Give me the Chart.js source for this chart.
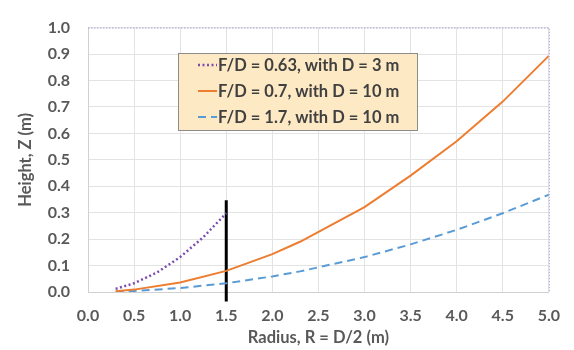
<!DOCTYPE html>
<html>
<head>
<meta charset="utf-8">
<script src="https://cdn.jsdelivr.net/npm/chart.js@4"></script>
<style>
  html, body { margin: 0; padding: 0; background: #fff; }
  #wrap { width: 574px; height: 350px; }
</style>
</head>
<body>
<div id="wrap"><canvas id="chart" width="574" height="350"></canvas></div>
<script>
// values
const rSmall = [0.3, 0.5, 0.75, 1.0, 1.25, 1.5];
const zSmall = [0.012, 0.033, 0.074, 0.132, 0.207, 0.298];

const rBig = [0.3, 0.5, 1.0, 1.5, 2.0, 2.3, 3.0, 3.5, 4.0, 4.5, 5.0];
const zMid = [0.003, 0.009, 0.036, 0.080, 0.143, 0.190, 0.321, 0.440, 0.570, 0.720, 0.893];
const zFlat = [0.001, 0.004, 0.015, 0.033, 0.059, 0.078, 0.132, 0.180, 0.235, 0.298, 0.368];

const markerX = [1.5, 1.5];
const markerY = [-0.036, 0.347];

const seriesNames = [
    'F/D = 0.63, with D = 3 m',
    'F/D = 0.7, with D = 10 m',
    'F/D = 1.7, with D = 10 m'
];

function pairUp(xs, ys) {
    let arr = [];
    for (let i = 0; i < xs.length; i++) {
        arr.push({x: xs[i], y: ys[i]});
    }
    return arr;
}

const FONT = 'Lato, "Open Sans", sans-serif';
const textColor = '#595959';

// dotted purple frame on the top and right of the plot
const framePlugin = {
    id: 'frame',
    afterDatasetsDraw(chart) {
        const a = chart.chartArea;
        const ctx = chart.ctx;
        ctx.save();
        ctx.strokeStyle = '#b39ddb';
        ctx.lineWidth = 1;
        ctx.setLineDash([1.5, 1.5]);
        ctx.beginPath();
        ctx.moveTo(a.left, a.top + 0.5);
        ctx.lineTo(a.right + 0.5, a.top + 0.5);
        ctx.lineTo(a.right + 0.5, a.bottom);
        ctx.stroke();
        ctx.restore();
    }
};

// boxed legend inside the plot, like the Excel one
const boxLegend = {
    id: 'boxLegend',
    afterDraw(chart) {
        const ctx = chart.ctx;
        const x0 = 178, y0 = 53, w = 239, h = 77;
        ctx.save();
        ctx.fillStyle = '#fde9c4';
        ctx.strokeStyle = '#8c8c8c';
        ctx.lineWidth = 1;
        ctx.fillRect(x0, y0, w, h);
        ctx.strokeRect(x0 + 0.5, y0 + 0.5, w, h);
        const rows = [65, 91, 117];
        ctx.font = 'bold 16.5px ' + FONT;
        ctx.textBaseline = 'middle';
        for (let i = 0; i < 3; i++) {
            const ds = chart.data.datasets[i];
            ctx.strokeStyle = ds.borderColor;
            ctx.lineWidth = ds.borderWidth;
            ctx.setLineDash(ds.borderDash || []);
            ctx.beginPath();
            ctx.moveTo(198, rows[i]);
            ctx.lineTo(217, rows[i]);
            ctx.stroke();
            ctx.setLineDash([]);
            ctx.fillStyle = '#404040';
            ctx.fillText(seriesNames[i], 218, rows[i] + 1);
        }
        ctx.restore();
    }
};

new Chart(document.getElementById('chart'), {
    type: 'scatter',
    data: {
        datasets: [{
            label: seriesNames[0],
            data: pairUp(rSmall, zSmall),
            showLine: true,
            borderColor: '#7a4cb0',
            borderWidth: 2.5,
            borderDash: [2, 2.5],
            pointRadius: 0,
            tension: 0
        }, {
            label: seriesNames[1],
            data: pairUp(rBig, zMid),
            showLine: true,
            borderColor: '#ed7d31',
            borderWidth: 2,
            pointRadius: 0,
            tension: 0
        }, {
            label: seriesNames[2],
            data: pairUp(rBig, zFlat),
            showLine: true,
            borderColor: '#5b9bd5',
            borderWidth: 2,
            borderDash: [8, 5],
            pointRadius: 0,
            tension: 0
        }, {
            label: 'marker',
            data: pairUp(markerX, markerY),
            showLine: true,
            borderColor: '#000000',
            borderWidth: 3,
            pointRadius: 0,
            clip: false
        }]
    },
    options: {
        responsive: false,
        animation: false,
        layout: { padding: { top: 15, right: 19, left: 0, bottom: 0 } },
        plugins: {
            legend: { display: false },
            tooltip: { enabled: false }
        },
        scales: {
            x: {
                type: 'linear',
                min: 0,
                max: 5,
                afterFit(scale) { scale.height = 58; },
                ticks: {
                    stepSize: 0.5,
                    padding: 14,
                    color: textColor,
                    font: { family: FONT, size: 16, weight: 'bold' },
                    callback: v => v.toFixed(1)
                },
                grid: { color: '#e3e3e3', drawTicks: false },
                border: { color: '#d0d0d0' },
                title: {
                    display: true,
                    text: 'Radius, R = D/2 (m)',
                    color: textColor,
                    font: { family: FONT, size: 16.5, weight: 'bold' },
                    padding: { top: 0, bottom: 2 }
                }
            },
            y: {
                min: 0,
                max: 1,
                afterFit(scale) { scale.width = 88; },
                ticks: {
                    stepSize: 0.1,
                    padding: 18,
                    color: textColor,
                    font: { family: FONT, size: 16, weight: 'bold' },
                    callback: v => v.toFixed(1)
                },
                grid: { color: '#e3e3e3', drawTicks: false },
                border: { color: '#d0d0d0' },
                title: {
                    display: true,
                    text: 'Height, Z (m)',
                    color: textColor,
                    font: { family: FONT, size: 16.5, weight: 'bold' },
                    padding: { top: 16, bottom: 0 }
                }
            }
        }
    },
    plugins: [framePlugin, boxLegend]
});
</script>
</body>
</html>
